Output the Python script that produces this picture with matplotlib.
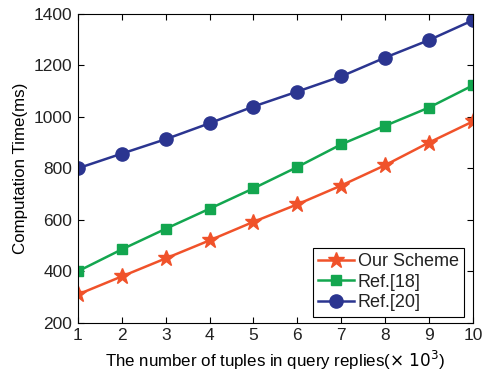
import numpy as np
import matplotlib
matplotlib.use("Agg")
import matplotlib.pyplot as plt

plt.rcParams['font.family'] = ['Liberation Sans', 'DejaVu Sans']
plt.rcParams['text.color'] = '#222222'
plt.rcParams['xtick.labelcolor'] = '#222222'
plt.rcParams['ytick.labelcolor'] = '#222222'

x = np.arange(1, 11)
ours = np.array([310, 380, 450, 520, 592, 660, 733, 812, 900, 982])
ref18 = np.array([400, 485, 565, 643, 722, 805, 893, 965, 1036, 1122])
ref20 = np.array([800, 857, 913, 975, 1040, 1098, 1157, 1230, 1298, 1375])

fig = plt.figure(figsize=(4.84, 3.74), dpi=100)
ax = fig.add_axes([0.161, 0.137, 0.816, 0.826])

ax.plot(x, ours, color='#F0522A', marker='*', markersize=12, lw=1.8, label='Our Scheme')
ax.plot(x, ref18, color='#13A64F', marker='s', markersize=7.5, lw=1.8, label='Ref.[18]')
ax.plot(x, ref20, color='#2B3590', marker='o', markersize=9.5, lw=1.8, label='Ref.[20]')

ax.set_xlim(1, 10)
ax.set_ylim(200, 1400)
ax.set_xticks(x)
ax.set_yticks(np.arange(200, 1401, 200))
ax.tick_params(direction='in', top=True, right=True, labelsize=12.5, length=4, pad=4)
for s in ax.spines.values():
    s.set_linewidth(0.8)

ax.set_xlabel(r'The number of tuples in query replies($\times\ 10^3$)', fontsize=12.2)
ax.set_ylabel('Computation Time(ms)', fontsize=12.2)

leg = ax.legend(loc='lower right', bbox_to_anchor=(0.978, 0.02), fontsize=13,
                fancybox=False, edgecolor='black', framealpha=1, handlelength=2.0,
                borderpad=0.3, labelspacing=0.2, handletextpad=0.2, borderaxespad=0)
leg.get_frame().set_linewidth(0.8)

fig.savefig('out.png', dpi=100)
